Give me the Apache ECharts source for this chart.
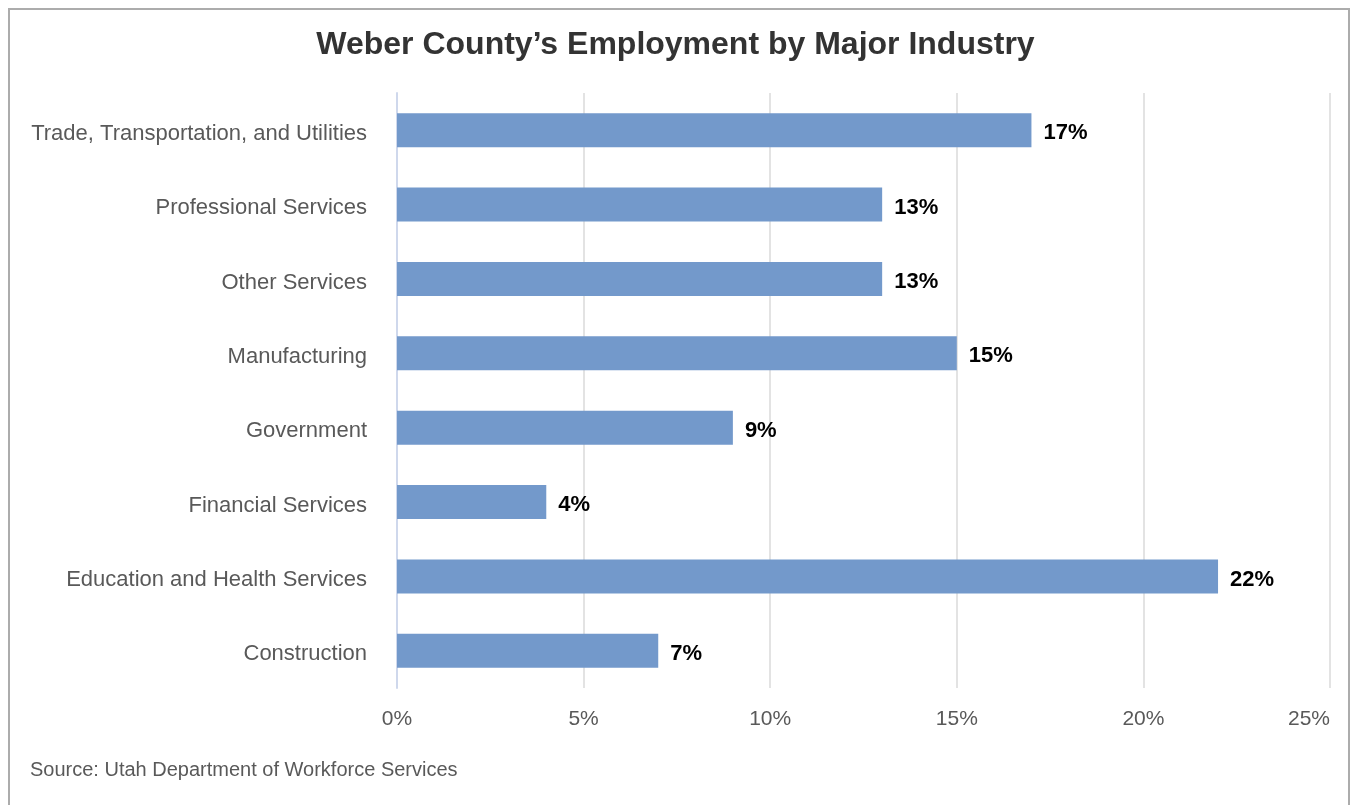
<!DOCTYPE html>
<html>
<head>
<meta charset="utf-8">
<script src="https://cdn.jsdelivr.net/npm/echarts@6/dist/echarts.min.js"></script>
<style>
html,body{margin:0;padding:0;background:#fff;}
#chart{width:1351px;height:805px;}
</style>
</head>
<body>
<div id="chart"></div>
<script>
const categories = ["Trade, Transportation, and Utilities","Professional Services","Other Services","Manufacturing","Government","Financial Services","Education and Health Services","Construction"];
const shares = [17, 13, 13, 15, 9, 4, 22, 7];
const axisMin = 0, axisMax = 25, axisStep = 5;

const chart = echarts.init(document.getElementById('chart'));
chart.setOption({
  backgroundColor: '#fff',
  animation: false,
  title: {
    text: 'Weber County\u2019s Employment by Major Industry',
    left: 'center', top: 24,
    textStyle: {fontFamily: 'Liberation Sans', fontSize: 32, fontWeight: 'bold', color: '#333333'}
  },
  graphic: [
    {type: 'rect', shape: {x: 9, y: 9, width: 1340, height: 820}, style: {fill: 'none', stroke: '#acacac', lineWidth: 2}},
    {type: 'text', left: 30, top: 760, style: {text: 'Source: Utah Department of Workforce Services', fontFamily: 'Liberation Sans', fontSize: 20, fill: '#595959'}}
  ],
  grid: {left: 397, right: 21, top: 93, bottom: 117, containLabel: false},
  xAxis: {
    type: 'value', min: axisMin, max: axisMax, interval: axisStep,
    axisLine: {show: false}, axisTick: {show: false},
    splitLine: {lineStyle: {color: '#e3e3e3', width: 2}},
    axisLabel: {formatter: '{value}%', fontFamily: 'Liberation Sans', fontSize: 21, color: '#595959', margin: 21, alignMaxLabel: 'right'}
  },
  yAxis: {
    type: 'category', data: categories, inverse: true,
    axisLine: {show: true, lineStyle: {color: '#cfd8ec', width: 2}},
    axisTick: {show: false},
    axisLabel: {
      formatter: function (v) { return '{a|' + v + '}'; },
      margin: 30,
      rich: {a: {fontFamily: 'Liberation Sans', fontSize: 22, color: '#595959', padding: [7, 0, 0, 0]}}
    }
  },
  series: [{
    type: 'bar', data: shares, barWidth: 34,
    itemStyle: {color: '#7399cb'},
    label: {show: true, position: 'right', distance: 12, offset: [0, 3], formatter: '{c}%', fontFamily: 'Liberation Sans', fontSize: 22, fontWeight: 'bold', color: '#000'}
  }]
});
</script>
</body>
</html>
